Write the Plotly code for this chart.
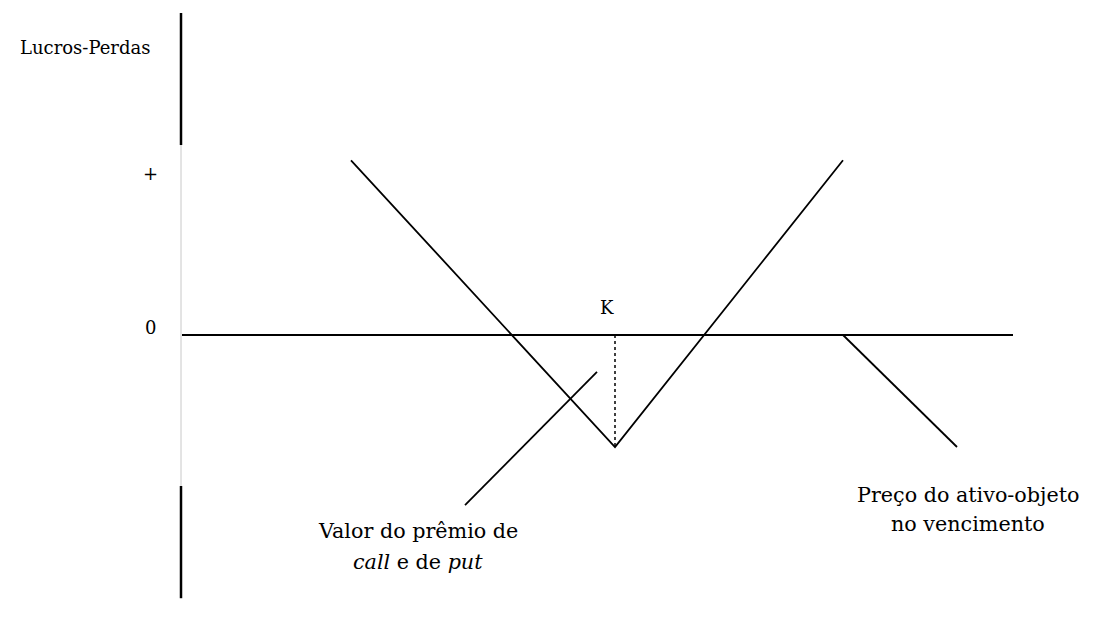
import plotly.graph_objects as go

# Conceptual units: x = underlying price, y = profit/loss (premium = 10)
K = 61.5
premium = 10.0

# Straddle payoff (long call + long put), as sketched
strad_x = [35.1, 61.5, 84.3]
strad_y = [15.6, -10.0, 15.6]

# Axes
zero_x = [18.2, 101.3]
zero_y = [0.0, 0.0]
yaxis_x = 18.1
yaxis_top_black = [28.75, 16.96]
yaxis_gray = [16.96, -13.48]
yaxis_bot_black = [-13.48, -23.5]

# Strike dotted marker
strike_x = [K, K]
strike_y = [0.0, -premium]

# Leader lines for labels
lead1_x = [46.5, 59.7]
lead1_y = [-15.18, -3.30]
lead2_x = [84.3, 95.7]
lead2_y = [0.0, -10.0]

FONT = "DejaVu Serif"
black = "#000000"

fig = go.Figure()

def line(x, y, color=black, width=1.8, dash="solid"):
    fig.add_trace(go.Scatter(x=x, y=y, mode="lines", hoverinfo="skip",
                             line=dict(color=color, width=width, dash=dash),
                             showlegend=False))

line([yaxis_x, yaxis_x], yaxis_top_black, width=2.5)
line([yaxis_x, yaxis_x], yaxis_gray, color="#c8c8c8", width=1)
line([yaxis_x, yaxis_x], yaxis_bot_black, width=2.5)
line(zero_x, zero_y)
line(strad_x, strad_y)
line(strike_x, strike_y, width=1.5, dash="dot")
line(lead1_x, lead1_y)
line(lead2_x, lead2_y)

texts = [
    ("Lucros-Perdas", 8.5, 25.71, 18),
    ("+", 15.0, 14.46, 18),
    ("0", 15.0, 0.71, 18),
    ("K", 60.7, 2.5, 18),
    ("Valor do prêmio de", 41.75, -17.5, 20.7),
    ("<i>call</i> e de <i>put</i>", 41.75, -20.27, 20.7),
    ("Preço do ativo-objeto", 96.8, -14.29, 20.7),
    ("no vencimento", 96.8, -16.88, 20.7),
]
for t, x, y, s in texts:
    fig.add_annotation(x=x, y=y, text=t, showarrow=False, xref="x", yref="y",
                       font=dict(family=FONT, size=s, color=black),
                       xanchor="center", yanchor="middle", align="center")

fig.update_layout(
    width=1112, height=619,
    margin=dict(l=0, r=0, t=0, b=0),
    paper_bgcolor="white", plot_bgcolor="white",
    font=dict(family=FONT, color=black),
    xaxis=dict(range=[0.8, 112.0], visible=False, fixedrange=True),
    yaxis=dict(range=[-26.07, 29.196], visible=False, fixedrange=True),
)

fig.write_html("out.html")
